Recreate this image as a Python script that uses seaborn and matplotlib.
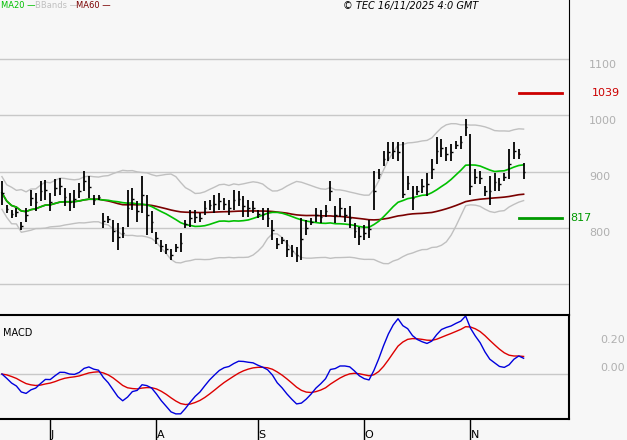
import numpy as np
import pandas as pd
import matplotlib
matplotlib.use("Agg")
import matplotlib.pyplot as plt
import seaborn as sns

high = [883,841,832,835,811,835,868,862,883,885,862,886,889,871,862,868,880,901,892,859,
        859,826,821,814,808,802,868,871,847,892,859,829,793,778,772,763,772,790,814,832,
        832,826,847,850,859,862,853,850,868,865,856,850,847,832,835,835,814,781,784,778,
        769,766,817,814,817,835,832,841,883,838,853,835,838,808,802,805,814,901,904,937,
        952,952,952,952,892,874,874,886,898,922,961,958,943,949,955,964,994,967,904,901,
        874,892,898,889,898,940,952,940,916]
low = [841,826,817,820,796,811,838,829,847,850,829,856,859,838,829,835,853,865,853,841,
       850,799,808,775,760,781,802,832,811,826,787,790,772,757,754,742,757,757,799,802,
       808,811,823,832,826,832,832,823,832,838,820,820,826,817,814,802,778,763,772,748,
       748,739,742,787,805,811,808,820,847,808,820,811,799,781,769,778,781,832,886,910,
       919,922,919,853,868,832,859,862,856,886,913,925,919,919,940,940,964,859,877,877,
       856,841,865,865,883,886,922,922,886]
close = [862,833,824,828,803,823,853,845,865,868,845,871,874,855,845,851,866,883,872,850,
         855,812,815,795,784,791,835,851,829,859,823,810,782,767,763,752,765,773,806,817,
         820,818,835,841,842,847,842,836,850,851,838,835,836,824,824,818,796,772,778,763,
         758,752,780,800,811,823,820,830,865,823,836,823,818,795,785,791,797,866,895,923,
         935,937,935,860,880,853,866,874,877,904,937,941,931,934,947,952,979,875,890,889,
         865,866,881,877,890,913,937,931,900]
month_ticks = [10, 32, 53, 75, 97]
month_labels = ["J", "A", "S", "O", "N"]
price_ticks = [800, 900, 1000, 1100]
macd_ticks = [0.0, 0.2]
resistance, support = 1039, 817

bg = "#f7f7f7"
df = pd.DataFrame({"i": np.arange(len(close)), "high": high, "low": low, "close": close})
c = df["close"]
df["ma20"] = c.rolling(20, min_periods=1).mean()
df["ma60"] = c.rolling(60, min_periods=1).mean()
sd = c.rolling(20, min_periods=2).std(ddof=0).bfill()
df["up"] = df["ma20"] + 2 * sd
df["dn"] = df["ma20"] - 2 * sd
macd = c.ewm(span=12, adjust=False).mean() - c.ewm(span=26, adjust=False).mean()
df["macd"] = macd / 75
df["sig"] = df["macd"].ewm(span=9, adjust=False).mean()

fig = plt.figure(figsize=(6.27, 4.4), dpi=100, facecolor=bg)
W, H = 627, 440
ax = fig.add_axes([0, 125 / H, 569 / W, 315 / H], facecolor=bg)
ax2 = fig.add_axes([0, 21 / H, 569 / W, 104 / H], facecolor=bg)
xl = (-0.4, 117.4)

for p in price_ticks + [700]:
    ax.axhline(p, color="#c8c8c8", lw=1, zorder=0)
sns.lineplot(data=df, x="i", y="up", ax=ax, color="#c0c0c0", lw=1)
sns.lineplot(data=df, x="i", y="dn", ax=ax, color="#c0c0c0", lw=1)
sns.lineplot(data=df, x="i", y="ma60", ax=ax, color="#7a0000", lw=1.2)
sns.lineplot(data=df, x="i", y="ma20", ax=ax, color="#00c000", lw=1.2)
ax.vlines(df["i"], df["low"], df["high"], color="black", lw=1.3)
ax.hlines(df["close"], df["i"], df["i"] + 0.35, color="black", lw=1)
ax.axhline(resistance, xmin=0.912, xmax=0.988, color="#cc0000", lw=2)
ax.axhline(support, xmin=0.912, xmax=0.988, color="#009900", lw=2)
ax.set_xlim(*xl)
ax.set_ylim(645, 1205)
ax.set_xticks([]); ax.set_yticks([])
ax.set_xlabel(""); ax.set_ylabel("")
for s in ["top", "left", "bottom"]:
    ax.spines[s].set_visible(False)
ax.spines["right"].set_color("black")

for p in price_ticks:
    ax.text(1.035, p - 10, f"{p}", transform=ax.get_yaxis_transform(), color="#b0b0b0",
            fontsize=8, ha="left", va="center")
ax.text(1.04, resistance, f"{resistance}", transform=ax.get_yaxis_transform(), color="#cc0000",
        fontsize=8, ha="left", va="center")
ax.text(1.002, support, f"{support}", transform=ax.get_yaxis_transform(), color="#009900",
        fontsize=8, ha="left", va="center")

fig.text(1 / W, 1 - 6 / H, "MA20 —", color="#00c000", fontsize=6, va="center")
fig.text(35 / W, 1 - 6 / H, "BBands —", color="#c0c0c0", fontsize=6, va="center")
fig.text(76 / W, 1 - 6 / H, "MA60 —", color="#7a0000", fontsize=6, va="center")
fig.text(478 / W, 1 - 6 / H, "© TEC 16/11/2025 4:0 GMT", color="black", fontsize=7,
         style="italic", ha="right", va="center")

ax2.axhline(0, color="#c8c8c8", lw=1, zorder=0)
sns.lineplot(data=df, x="i", y="sig", ax=ax2, color="#dd0000", lw=1)
sns.lineplot(data=df, x="i", y="macd", ax=ax2, color="#0000dd", lw=1)
ax2.set_xlim(*xl)
ax2.set_ylim(-0.32, 0.42)
ax2.set_yticks([]); ax2.set_ylabel(""); ax2.set_xlabel("")
ax2.set_xticks(month_ticks)
ax2.set_xticklabels(month_labels)
ax2.tick_params(axis="x", length=18, width=1, direction="out", labelsize=8, pad=-10)
for lab in ax2.get_xticklabels():
    lab.set_horizontalalignment("left")
for s in ax2.spines.values():
    s.set_color("black"); s.set_linewidth(1.5)
ax2.spines["left"].set_visible(False)
ax2.text(0.005, 0.83, "MACD", transform=ax2.transAxes, fontsize=7, va="center")
for v in macd_ticks:
    ax2.text(1.055, v + 0.04, f"{v:.2f}", transform=ax2.get_yaxis_transform(), color="#b0b0b0",
             fontsize=8, ha="left", va="center")

fig.savefig("out.png", dpi=100, facecolor=bg)
